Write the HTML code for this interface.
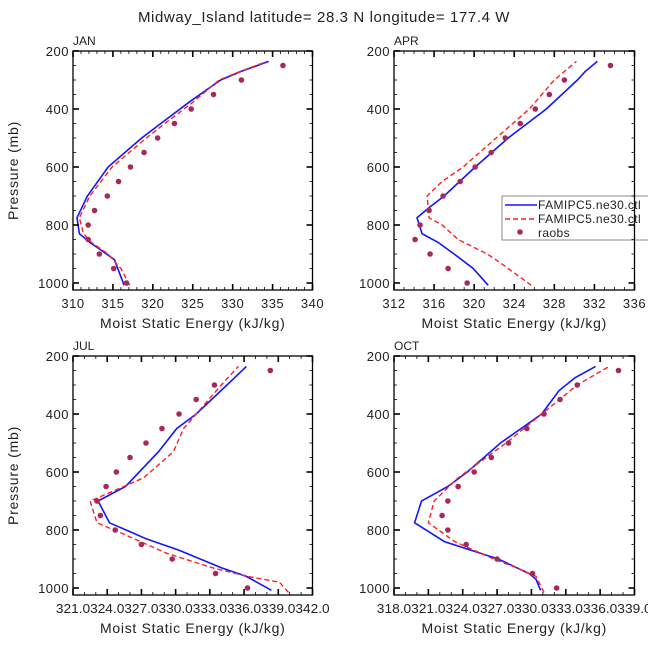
<!DOCTYPE html>
<html><head><meta charset="utf-8"><style>
body{margin:0;background:#fff}
svg{display:block;font-family:"Liberation Sans",sans-serif}
</style></head><body>
<svg id="c" width="648" height="649" viewBox="0 0 648 649">
<text x="324" y="22" text-anchor="middle" font-size="15" letter-spacing="0.6" fill="#222">Midway_Island  latitude= 28.3 N longitude= 177.4 W</text>
</svg>
<script>
// ---- data ----
const janBlueP=[1008,920,890,860,830,775,700,600,500,450,375,300,270,236];
const janBlueV=[316.4,315.2,313.7,312.1,310.8,310.5,311.8,314.4,318.6,321.0,324.6,328.5,331.1,334.5];
const janRedP=[1008,950,900,860,830,775,700,600,500,450,375,300,270,236];
const janRedV=[317.1,316.0,314.4,312.3,311.3,310.8,312.1,314.9,319.2,321.5,325.1,328.3,331.0,334.3];
const obsP=[1000,950,900,850,800,750,700,650,600,550,500,450,400,350,300,250];
const janObs=[316.7,315.1,313.3,311.9,311.9,312.7,314.3,315.7,317.2,318.9,320.6,322.7,324.8,327.6,331.1,336.3];

const aprBlueP=[1008,950,900,860,830,775,740,700,600,500,400,300,270,236];
const aprBlueV=[321.4,319.9,318.0,316.4,314.8,314.3,315.5,317.0,320.1,323.4,327.2,330.3,331.1,332.3];
const aprRedP=[1008,950,930,900,850,800,775,700,650,600,500,400,300,236];
const aprRedV=[325.7,323.4,322.6,321.3,318.4,316.8,315.5,315.3,316.8,318.9,322.2,325.5,328.0,330.2];
const aprObs=[319.3,317.4,315.6,314.1,314.6,315.5,316.9,318.6,320.1,321.7,323.1,324.6,326.1,327.5,329.0,333.6];

const julBlueP=[1008,960,930,870,830,775,700,650,530,450,400,300,236];
const julBlueV=[338.4,336.2,334.0,330.3,327.4,324.2,323.2,325.6,328.5,330.1,331.8,334.5,336.2];
const julRedP=[1015,980,960,930,880,810,775,700,690,620,530,450,400,300,236];
const julRedV=[339.9,339.1,336.3,333.2,329.2,325.2,323.1,322.5,323.1,327.2,329.8,330.7,331.8,334.0,335.5];
const julObs=[336.3,333.5,329.7,327.0,324.7,323.4,323.1,323.9,324.8,326.0,327.4,328.8,330.3,331.8,333.4,338.3];

const octBlueP=[1008,970,950,900,840,775,700,650,600,500,450,400,320,275,236];
const octBlueV=[330.8,330.4,329.8,327.1,322.4,319.8,320.4,322.7,324.4,327.3,329.1,330.9,332.4,333.8,335.6];
const octRedP=[1015,960,930,900,840,775,700,620,500,400,300,236];
const octRedV=[331.1,330.4,328.7,326.7,323.3,321.0,321.5,323.6,327.8,330.9,334.0,336.8];
const octObs=[332.2,330.1,327.0,324.3,322.7,322.2,322.7,323.6,325.0,326.5,328.0,329.6,331.1,332.5,334.0,337.6];

const yTicks=[200,400,600,800,1000];
const janX=[310,315,320,325,330,335,340];
const aprX=[312,316,320,324,328,332,336];
const julX=[321,324,327,330,333,336,339,342];
const octX=[318,321,324,327,330,333,336,339];

// ---- drawing ----
const NS="http://www.w3.org/2000/svg";
const svg=document.getElementById('c');
function mk(t,a,p){const e=document.createElementNS(NS,t);for(const k in a)e.setAttribute(k,a[k]);(p||svg).appendChild(e);return e;}

const panels=[
 {id:'jan',label:'JAN',x0:73,x1:312.5,yTop:51,y1000:283,yBot:290,xmin:310,xmax:340,xt:janX,fmt:v=>String(v),minor:1,
  bp:janBlueP,bv:janBlueV,rp:janRedP,rv:janRedV,ov:janObs},
 {id:'apr',label:'APR',x0:394,x1:634.5,yTop:51,y1000:283,yBot:290,xmin:312,xmax:336,xt:aprX,fmt:v=>String(v),minor:1,
  bp:aprBlueP,bv:aprBlueV,rp:aprRedP,rv:aprRedV,ov:aprObs,legend:true},
 {id:'jul',label:'JUL',x0:73,x1:312.5,yTop:356,y1000:588,yBot:595,xmin:321,xmax:342,xt:julX,fmt:v=>v.toFixed(1),minor:1,concat:true,
  bp:julBlueP,bv:julBlueV,rp:julRedP,rv:julRedV,ov:julObs},
 {id:'oct',label:'OCT',x0:394,x1:634.5,yTop:356,y1000:588,yBot:595,xmin:318,xmax:339,xt:octX,fmt:v=>v.toFixed(1),minor:1,concat:true,
  bp:octBlueP,bv:octBlueV,rp:octRedP,rv:octRedV,ov:octObs}
];

panels.forEach(P=>{
 const g=mk('g',{});
 
 
 const sx=v=>P.x0+(v-P.xmin)/(P.xmax-P.xmin)*(P.x1-P.x0);
 const sy=p=>P.yTop+(p-200)/800*(P.y1000-P.yTop);
 const lab=mk('text',{x:P.x0,y:P.yTop-6,'font-size':12,fill:'#222'},g);lab.textContent=P.label;
 
 
 const cp=mk('clipPath',{id:'cl'+P.id},g);mk('rect',{x:P.x0,y:P.yTop,width:P.x1-P.x0,height:P.yBot-P.yTop},cp);
 const d=mk('g',{'clip-path':'url(#cl'+P.id+')'},g);
 const path=(ps,vs)=>ps.map((p,i)=>(i?'L':'M')+sx(vs[i]).toFixed(1)+','+sy(p).toFixed(1)).join('');
 const b=mk('path',{d:path(P.bp,P.bv),fill:'none',stroke:'#1515ff','stroke-width':1.6},d);
 
 
 const r=mk('path',{d:path(P.rp,P.rv),fill:'none',stroke:'#ff2020','stroke-width':1.4,'stroke-dasharray':'5,3'},d);
 
 
 P.ov.forEach((v,i)=>{const c=mk('circle',{cx:sx(v),cy:sy(obsP[i]),r:2.8,fill:'#a8285a'},g);
  
  });
 if(P.legend){
  const L=mk('g',{},g);
  
  
  mk('rect',{x:502,y:196,width:150,height:44,fill:'#fff',stroke:'#888','stroke-width':1},L);
  mk('line',{x1:505,y1:205,x2:537,y2:205,stroke:'#1515ff','stroke-width':1.6},L);
  mk('line',{x1:505,y1:219,x2:537,y2:219,stroke:'#ff2020','stroke-width':1.4,'stroke-dasharray':'5,3'},L);
  mk('circle',{cx:520,cy:232,r:2.8,fill:'#a8285a'},L);
  [['FAMIPC5.ne30.ctl',209],['FAMIPC5.ne30.ctl',223],['raobs',237]].forEach(t=>{const e=mk('text',{x:538,y:t[1],'font-size':12,'letter-spacing':0.4,fill:'#222'},L);e.textContent=t[0];
   
   });
 }
 mk('rect',{x:P.x0,y:P.yTop,width:P.x1-P.x0,height:P.yBot-P.yTop,fill:'none',stroke:'#000','stroke-width':1.3},g);
 for(let p=200;p<=1000;p+=50){const y=sy(p),maj=p%200==0,L=maj?6:3;
  mk('line',{x1:P.x0,y1:y,x2:P.x0+L,y2:y,stroke:'#000','stroke-width':maj?1.6:0.8},g);
  mk('line',{x1:P.x1,y1:y,x2:P.x1-L,y2:y,stroke:'#000','stroke-width':maj?1.6:0.8},g);}
 yTicks.forEach(p=>{const t=mk('text',{x:P.x0-4,y:sy(p)+5,'text-anchor':'end','font-size':13,'letter-spacing':0.5,fill:'#222'},g);t.textContent=p;
  
  });
 for(let v=P.xmin;v<=P.xmax+1e-6;v+=P.minor){const x=sx(v),maj=P.xt.some(t=>Math.abs(t-v)<1e-6),L=maj?6:3;
  mk('line',{x1:x,y1:P.yBot,x2:x,y2:P.yBot-L,stroke:'#000','stroke-width':maj?1.6:0.8},g);
  mk('line',{x1:x,y1:P.yTop,x2:x,y2:P.yTop+L,stroke:'#000','stroke-width':maj?1.6:0.8},g);}
 P.xt.forEach(v=>{const t=mk('text',{x:sx(v),y:P.yBot+18,'text-anchor':'middle','font-size':13,fill:'#222'},g);
  t.textContent=P.fmt(v);
  if(P.concat){t.setAttribute('textLength',String((P.x1-P.x0)/(P.xt.length-1)));t.setAttribute('lengthAdjust','spacingAndGlyphs');}
  else t.setAttribute('letter-spacing','0.5');
  
  });
 const xl=mk('text',{x:(P.x0+P.x1)/2,y:P.yBot+38,'text-anchor':'middle','font-size':14,'letter-spacing':0.7,fill:'#222'},g);
 xl.textContent='Moist Static Energy (kJ/kg)';
 
 
 if(P.x0<100){const yl=mk('text',{x:0,y:0,'text-anchor':'middle','font-size':14,'letter-spacing':0.8,fill:'#222',transform:`translate(18,${(P.yTop+P.yBot)/2}) rotate(-90)`},g);
  yl.textContent='Pressure (mb)';
  
  }
});
</script>
</body></html>
